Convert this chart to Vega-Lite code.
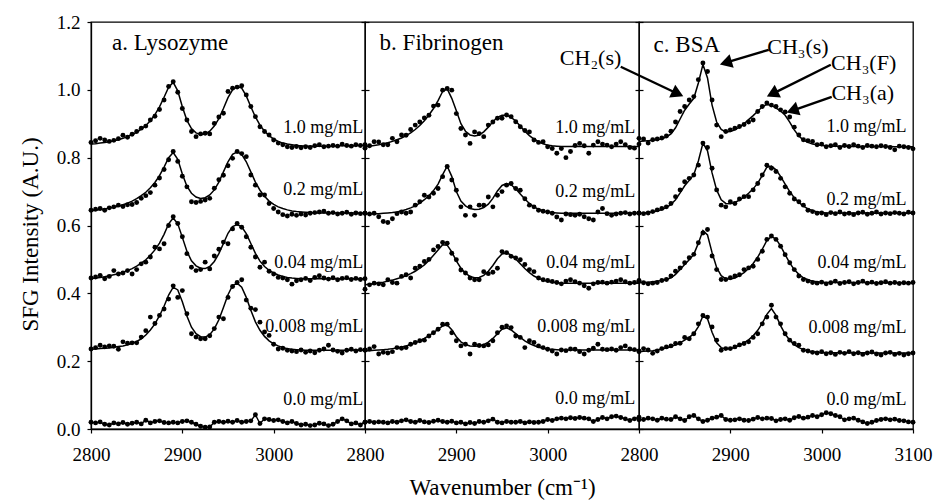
{
"$schema":"https://vega.github.io/schema/vega-lite/v6.json",
"padding":{"left":18,"top":12,"right":5,"bottom":5},
"config":{"font":"Liberation Serif","view":{"stroke":"black","strokeWidth":1.3},
"axis":{"grid":false,"domainColor":"black","tickColor":"black","labelColor":"black","titleColor":"black","labelFont":"Liberation Serif","titleFont":"Liberation Serif","labelFontSize":19,"titleFontSize":23,"titleFontWeight":"normal","tickSize":4,"labelFlush":false,"labelOverlap":false,"domainWidth":1.3,"tickWidth":1.2},
"text":{"font":"Liberation Serif","color":"black"}},
"datasets":{
"s":[
{"p":"a","c":"1.0","x":2800,"y":0.845,"f":0.840},{"p":"a","c":"1.0","x":2805,"y":0.850,"f":0.841},{"p":"a","c":"1.0","x":2810,"y":0.857,"f":0.843},{"p":"a","c":"1.0","x":2815,"y":0.852,"f":0.845},{"p":"a","c":"1.0","x":2820,"y":0.848,"f":0.847},{"p":"a","c":"1.0","x":2825,"y":0.851,"f":0.850},{"p":"a","c":"1.0","x":2830,"y":0.856,"f":0.853},{"p":"a","c":"1.0","x":2835,"y":0.866,"f":0.857},{"p":"a","c":"1.0","x":2840,"y":0.860,"f":0.862},{"p":"a","c":"1.0","x":2845,"y":0.869,"f":0.868},{"p":"a","c":"1.0","x":2850,"y":0.877,"f":0.875},
{"p":"a","c":"1.0","x":2855,"y":0.887,"f":0.884},{"p":"a","c":"1.0","x":2860,"y":0.893,"f":0.895},{"p":"a","c":"1.0","x":2865,"y":0.911,"f":0.909},{"p":"a","c":"1.0","x":2870,"y":0.922,"f":0.927},{"p":"a","c":"1.0","x":2875,"y":0.942,"f":0.950},{"p":"a","c":"1.0","x":2880,"y":0.970,"f":0.978},{"p":"a","c":"1.0","x":2885,"y":1.010,"f":1.008},{"p":"a","c":"1.0","x":2890,"y":1.024,"f":1.022},{"p":"a","c":"1.0","x":2895,"y":0.993,"f":0.997},{"p":"a","c":"1.0","x":2900,"y":0.945,"f":0.950},
{"p":"a","c":"1.0","x":2905,"y":0.911,"f":0.910},{"p":"a","c":"1.0","x":2910,"y":0.877,"f":0.886},{"p":"a","c":"1.0","x":2915,"y":0.862,"f":0.873},{"p":"a","c":"1.0","x":2920,"y":0.870,"f":0.868},{"p":"a","c":"1.0","x":2925,"y":0.872,"f":0.870},{"p":"a","c":"1.0","x":2930,"y":0.870,"f":0.878},{"p":"a","c":"1.0","x":2935,"y":0.901,"f":0.893},{"p":"a","c":"1.0","x":2940,"y":0.920,"f":0.915},{"p":"a","c":"1.0","x":2945,"y":0.931,"f":0.945},{"p":"a","c":"1.0","x":2950,"y":0.995,"f":0.977},
{"p":"a","c":"1.0","x":2955,"y":1.005,"f":1.000},{"p":"a","c":"1.0","x":2960,"y":1.008,"f":1.010},{"p":"a","c":"1.0","x":2965,"y":1.012,"f":1.005},{"p":"a","c":"1.0","x":2970,"y":0.985,"f":0.982},{"p":"a","c":"1.0","x":2975,"y":0.951,"f":0.950},{"p":"a","c":"1.0","x":2980,"y":0.921,"f":0.920},{"p":"a","c":"1.0","x":2985,"y":0.891,"f":0.896},{"p":"a","c":"1.0","x":2990,"y":0.877,"f":0.878},{"p":"a","c":"1.0","x":2995,"y":0.867,"f":0.865},{"p":"a","c":"1.0","x":3000,"y":0.852,"f":0.855},
{"p":"a","c":"1.0","x":3005,"y":0.843,"f":0.848},{"p":"a","c":"1.0","x":3010,"y":0.838,"f":0.843},{"p":"a","c":"1.0","x":3015,"y":0.832,"f":0.840},{"p":"a","c":"1.0","x":3020,"y":0.830,"f":0.838},{"p":"a","c":"1.0","x":3025,"y":0.833,"f":0.836},{"p":"a","c":"1.0","x":3030,"y":0.829,"f":0.835},{"p":"a","c":"1.0","x":3035,"y":0.832,"f":0.834},{"p":"a","c":"1.0","x":3040,"y":0.830,"f":0.834},{"p":"a","c":"1.0","x":3045,"y":0.835,"f":0.834},{"p":"a","c":"1.0","x":3050,"y":0.838,"f":0.834},
{"p":"a","c":"1.0","x":3055,"y":0.832,"f":0.834},{"p":"a","c":"1.0","x":3060,"y":0.834,"f":0.834},{"p":"a","c":"1.0","x":3065,"y":0.836,"f":0.834},{"p":"a","c":"1.0","x":3070,"y":0.834,"f":0.835},{"p":"a","c":"1.0","x":3075,"y":0.840,"f":0.835},{"p":"a","c":"1.0","x":3080,"y":0.836,"f":0.835},{"p":"a","c":"1.0","x":3085,"y":0.834,"f":0.835},{"p":"a","c":"1.0","x":3090,"y":0.838,"f":0.836},{"p":"a","c":"1.0","x":3095,"y":0.836,"f":0.836},{"p":"a","c":"1.0","x":3100,"y":0.838,"f":0.836},

{"p":"a","c":"0.2","x":2800,"y":0.645,"f":0.643},{"p":"a","c":"0.2","x":2805,"y":0.648,"f":0.645},{"p":"a","c":"0.2","x":2810,"y":0.650,"f":0.647},{"p":"a","c":"0.2","x":2815,"y":0.645,"f":0.649},{"p":"a","c":"0.2","x":2820,"y":0.652,"f":0.651},{"p":"a","c":"0.2","x":2825,"y":0.655,"f":0.654},{"p":"a","c":"0.2","x":2830,"y":0.660,"f":0.657},{"p":"a","c":"0.2","x":2835,"y":0.656,"f":0.661},{"p":"a","c":"0.2","x":2840,"y":0.661,"f":0.666},{"p":"a","c":"0.2","x":2845,"y":0.662,"f":0.672},{"p":"a","c":"0.2","x":2850,"y":0.668,"f":0.679},
{"p":"a","c":"0.2","x":2855,"y":0.680,"f":0.688},{"p":"a","c":"0.2","x":2860,"y":0.688,"f":0.698},{"p":"a","c":"0.2","x":2865,"y":0.697,"f":0.711},{"p":"a","c":"0.2","x":2870,"y":0.719,"f":0.727},{"p":"a","c":"0.2","x":2875,"y":0.740,"f":0.747},{"p":"a","c":"0.2","x":2880,"y":0.765,"f":0.772},{"p":"a","c":"0.2","x":2885,"y":0.794,"f":0.800},{"p":"a","c":"0.2","x":2890,"y":0.818,"f":0.815},{"p":"a","c":"0.2","x":2895,"y":0.789,"f":0.795},{"p":"a","c":"0.2","x":2900,"y":0.745,"f":0.752},
{"p":"a","c":"0.2","x":2905,"y":0.714,"f":0.716},{"p":"a","c":"0.2","x":2910,"y":0.670,"f":0.695},{"p":"a","c":"0.2","x":2915,"y":0.668,"f":0.684},{"p":"a","c":"0.2","x":2920,"y":0.671,"f":0.680},{"p":"a","c":"0.2","x":2925,"y":0.675,"f":0.682},{"p":"a","c":"0.2","x":2930,"y":0.680,"f":0.690},{"p":"a","c":"0.2","x":2935,"y":0.710,"f":0.705},{"p":"a","c":"0.2","x":2940,"y":0.735,"f":0.728},{"p":"a","c":"0.2","x":2945,"y":0.748,"f":0.758},{"p":"a","c":"0.2","x":2950,"y":0.776,"f":0.788},
{"p":"a","c":"0.2","x":2955,"y":0.798,"f":0.810},{"p":"a","c":"0.2","x":2960,"y":0.818,"f":0.817},{"p":"a","c":"0.2","x":2965,"y":0.812,"f":0.810},{"p":"a","c":"0.2","x":2970,"y":0.803,"f":0.788},{"p":"a","c":"0.2","x":2975,"y":0.749,"f":0.758},{"p":"a","c":"0.2","x":2980,"y":0.719,"f":0.728},{"p":"a","c":"0.2","x":2985,"y":0.690,"f":0.704},{"p":"a","c":"0.2","x":2990,"y":0.690,"f":0.686},{"p":"a","c":"0.2","x":2995,"y":0.665,"f":0.672},{"p":"a","c":"0.2","x":3000,"y":0.650,"f":0.662},
{"p":"a","c":"0.2","x":3005,"y":0.640,"f":0.655},{"p":"a","c":"0.2","x":3010,"y":0.632,"f":0.650},{"p":"a","c":"0.2","x":3015,"y":0.628,"f":0.646},{"p":"a","c":"0.2","x":3020,"y":0.633,"f":0.643},{"p":"a","c":"0.2","x":3025,"y":0.630,"f":0.641},{"p":"a","c":"0.2","x":3030,"y":0.634,"f":0.640},{"p":"a","c":"0.2","x":3035,"y":0.631,"f":0.639},{"p":"a","c":"0.2","x":3040,"y":0.636,"f":0.638},{"p":"a","c":"0.2","x":3045,"y":0.638,"f":0.637},{"p":"a","c":"0.2","x":3050,"y":0.640,"f":0.637},
{"p":"a","c":"0.2","x":3055,"y":0.642,"f":0.637},{"p":"a","c":"0.2","x":3060,"y":0.636,"f":0.637},{"p":"a","c":"0.2","x":3065,"y":0.638,"f":0.637},{"p":"a","c":"0.2","x":3070,"y":0.634,"f":0.637},{"p":"a","c":"0.2","x":3075,"y":0.636,"f":0.637},{"p":"a","c":"0.2","x":3080,"y":0.639,"f":0.637},{"p":"a","c":"0.2","x":3085,"y":0.633,"f":0.637},{"p":"a","c":"0.2","x":3090,"y":0.637,"f":0.637},{"p":"a","c":"0.2","x":3095,"y":0.635,"f":0.637},{"p":"a","c":"0.2","x":3100,"y":0.636,"f":0.637},

{"p":"a","c":"0.04","x":2800,"y":0.445,"f":0.443},{"p":"a","c":"0.04","x":2805,"y":0.448,"f":0.445},{"p":"a","c":"0.04","x":2810,"y":0.453,"f":0.447},{"p":"a","c":"0.04","x":2815,"y":0.443,"f":0.449},{"p":"a","c":"0.04","x":2820,"y":0.450,"f":0.452},{"p":"a","c":"0.04","x":2825,"y":0.467,"f":0.455},{"p":"a","c":"0.04","x":2830,"y":0.457,"f":0.458},{"p":"a","c":"0.04","x":2835,"y":0.460,"f":0.462},{"p":"a","c":"0.04","x":2840,"y":0.467,"f":0.467},{"p":"a","c":"0.04","x":2845,"y":0.457,"f":0.473},{"p":"a","c":"0.04","x":2850,"y":0.470,"f":0.480},
{"p":"a","c":"0.04","x":2855,"y":0.487,"f":0.489},{"p":"a","c":"0.04","x":2860,"y":0.492,"f":0.499},{"p":"a","c":"0.04","x":2865,"y":0.507,"f":0.512},{"p":"a","c":"0.04","x":2870,"y":0.536,"f":0.528},{"p":"a","c":"0.04","x":2875,"y":0.531,"f":0.548},{"p":"a","c":"0.04","x":2880,"y":0.546,"f":0.574},{"p":"a","c":"0.04","x":2885,"y":0.600,"f":0.605},{"p":"a","c":"0.04","x":2890,"y":0.626,"f":0.622},{"p":"a","c":"0.04","x":2895,"y":0.606,"f":0.605},{"p":"a","c":"0.04","x":2900,"y":0.567,"f":0.565},
{"p":"a","c":"0.04","x":2905,"y":0.517,"f":0.524},{"p":"a","c":"0.04","x":2910,"y":0.477,"f":0.496},{"p":"a","c":"0.04","x":2915,"y":0.467,"f":0.481},{"p":"a","c":"0.04","x":2920,"y":0.470,"f":0.474},{"p":"a","c":"0.04","x":2925,"y":0.492,"f":0.473},{"p":"a","c":"0.04","x":2930,"y":0.472,"f":0.479},{"p":"a","c":"0.04","x":2935,"y":0.510,"f":0.494},{"p":"a","c":"0.04","x":2940,"y":0.530,"f":0.517},{"p":"a","c":"0.04","x":2945,"y":0.551,"f":0.547},{"p":"a","c":"0.04","x":2950,"y":0.546,"f":0.577},
{"p":"a","c":"0.04","x":2955,"y":0.590,"f":0.597},{"p":"a","c":"0.04","x":2960,"y":0.606,"f":0.603},{"p":"a","c":"0.04","x":2965,"y":0.595,"f":0.596},{"p":"a","c":"0.04","x":2970,"y":0.567,"f":0.576},{"p":"a","c":"0.04","x":2975,"y":0.536,"f":0.547},{"p":"a","c":"0.04","x":2980,"y":0.507,"f":0.518},{"p":"a","c":"0.04","x":2985,"y":0.477,"f":0.495},{"p":"a","c":"0.04","x":2990,"y":0.492,"f":0.479},{"p":"a","c":"0.04","x":2995,"y":0.465,"f":0.468},{"p":"a","c":"0.04","x":3000,"y":0.457,"f":0.460},
{"p":"a","c":"0.04","x":3005,"y":0.447,"f":0.454},{"p":"a","c":"0.04","x":3010,"y":0.445,"f":0.450},{"p":"a","c":"0.04","x":3015,"y":0.440,"f":0.447},{"p":"a","c":"0.04","x":3020,"y":0.427,"f":0.445},{"p":"a","c":"0.04","x":3025,"y":0.437,"f":0.444},{"p":"a","c":"0.04","x":3030,"y":0.440,"f":0.443},{"p":"a","c":"0.04","x":3035,"y":0.444,"f":0.443},{"p":"a","c":"0.04","x":3040,"y":0.438,"f":0.443},{"p":"a","c":"0.04","x":3045,"y":0.447,"f":0.443},{"p":"a","c":"0.04","x":3050,"y":0.452,"f":0.443},
{"p":"a","c":"0.04","x":3055,"y":0.445,"f":0.443},{"p":"a","c":"0.04","x":3060,"y":0.442,"f":0.443},{"p":"a","c":"0.04","x":3065,"y":0.446,"f":0.443},{"p":"a","c":"0.04","x":3070,"y":0.440,"f":0.443},{"p":"a","c":"0.04","x":3075,"y":0.444,"f":0.443},{"p":"a","c":"0.04","x":3080,"y":0.446,"f":0.443},{"p":"a","c":"0.04","x":3085,"y":0.441,"f":0.443},{"p":"a","c":"0.04","x":3090,"y":0.444,"f":0.443},{"p":"a","c":"0.04","x":3095,"y":0.441,"f":0.443},{"p":"a","c":"0.04","x":3100,"y":0.443,"f":0.443},

{"p":"a","c":"0.008","x":2800,"y":0.236,"f":0.235},{"p":"a","c":"0.008","x":2805,"y":0.240,"f":0.236},{"p":"a","c":"0.008","x":2810,"y":0.247,"f":0.237},{"p":"a","c":"0.008","x":2815,"y":0.242,"f":0.238},{"p":"a","c":"0.008","x":2820,"y":0.245,"f":0.239},{"p":"a","c":"0.008","x":2825,"y":0.244,"f":0.241},{"p":"a","c":"0.008","x":2830,"y":0.235,"f":0.243},{"p":"a","c":"0.008","x":2835,"y":0.257,"f":0.245},{"p":"a","c":"0.008","x":2840,"y":0.253,"f":0.248},{"p":"a","c":"0.008","x":2845,"y":0.254,"f":0.252},{"p":"a","c":"0.008","x":2850,"y":0.254,"f":0.258},
{"p":"a","c":"0.008","x":2855,"y":0.271,"f":0.266},{"p":"a","c":"0.008","x":2860,"y":0.290,"f":0.277},{"p":"a","c":"0.008","x":2865,"y":0.330,"f":0.292},{"p":"a","c":"0.008","x":2870,"y":0.311,"f":0.310},{"p":"a","c":"0.008","x":2875,"y":0.335,"f":0.334},{"p":"a","c":"0.008","x":2880,"y":0.354,"f":0.362},{"p":"a","c":"0.008","x":2885,"y":0.383,"f":0.395},{"p":"a","c":"0.008","x":2890,"y":0.422,"f":0.418},{"p":"a","c":"0.008","x":2895,"y":0.388,"f":0.410},{"p":"a","c":"0.008","x":2900,"y":0.408,"f":0.375},
{"p":"a","c":"0.008","x":2905,"y":0.340,"f":0.333},{"p":"a","c":"0.008","x":2910,"y":0.281,"f":0.300},{"p":"a","c":"0.008","x":2915,"y":0.271,"f":0.281},{"p":"a","c":"0.008","x":2920,"y":0.266,"f":0.272},{"p":"a","c":"0.008","x":2925,"y":0.266,"f":0.271},{"p":"a","c":"0.008","x":2930,"y":0.275,"f":0.278},{"p":"a","c":"0.008","x":2935,"y":0.296,"f":0.295},{"p":"a","c":"0.008","x":2940,"y":0.330,"f":0.322},{"p":"a","c":"0.008","x":2945,"y":0.325,"f":0.358},{"p":"a","c":"0.008","x":2950,"y":0.388,"f":0.396},
{"p":"a","c":"0.008","x":2955,"y":0.420,"f":0.423},{"p":"a","c":"0.008","x":2960,"y":0.432,"f":0.430},{"p":"a","c":"0.008","x":2965,"y":0.440,"f":0.418},{"p":"a","c":"0.008","x":2970,"y":0.380,"f":0.388},{"p":"a","c":"0.008","x":2975,"y":0.356,"f":0.350},{"p":"a","c":"0.008","x":2980,"y":0.352,"f":0.316},{"p":"a","c":"0.008","x":2985,"y":0.315,"f":0.291},{"p":"a","c":"0.008","x":2990,"y":0.286,"f":0.273},{"p":"a","c":"0.008","x":2995,"y":0.276,"f":0.260},{"p":"a","c":"0.008","x":3000,"y":0.250,"f":0.251},
{"p":"a","c":"0.008","x":3005,"y":0.236,"f":0.245},{"p":"a","c":"0.008","x":3010,"y":0.238,"f":0.240},{"p":"a","c":"0.008","x":3015,"y":0.232,"f":0.237},{"p":"a","c":"0.008","x":3020,"y":0.230,"f":0.235},{"p":"a","c":"0.008","x":3025,"y":0.228,"f":0.234},{"p":"a","c":"0.008","x":3030,"y":0.233,"f":0.233},{"p":"a","c":"0.008","x":3035,"y":0.226,"f":0.232},{"p":"a","c":"0.008","x":3040,"y":0.230,"f":0.232},{"p":"a","c":"0.008","x":3045,"y":0.225,"f":0.232},{"p":"a","c":"0.008","x":3050,"y":0.232,"f":0.232},
{"p":"a","c":"0.008","x":3055,"y":0.236,"f":0.232},{"p":"a","c":"0.008","x":3060,"y":0.247,"f":0.232},{"p":"a","c":"0.008","x":3065,"y":0.233,"f":0.232},{"p":"a","c":"0.008","x":3070,"y":0.229,"f":0.232},{"p":"a","c":"0.008","x":3075,"y":0.224,"f":0.232},{"p":"a","c":"0.008","x":3080,"y":0.232,"f":0.232},{"p":"a","c":"0.008","x":3085,"y":0.235,"f":0.232},{"p":"a","c":"0.008","x":3090,"y":0.230,"f":0.232},{"p":"a","c":"0.008","x":3095,"y":0.234,"f":0.232},{"p":"a","c":"0.008","x":3100,"y":0.232,"f":0.232},

{"p":"a","c":"0.0","x":2800,"y":0.020},{"p":"a","c":"0.0","x":2805,"y":0.018},{"p":"a","c":"0.0","x":2810,"y":0.021},{"p":"a","c":"0.0","x":2815,"y":0.014},{"p":"a","c":"0.0","x":2820,"y":0.012},{"p":"a","c":"0.0","x":2825,"y":0.018},{"p":"a","c":"0.0","x":2830,"y":0.015},{"p":"a","c":"0.0","x":2835,"y":0.019},{"p":"a","c":"0.0","x":2840,"y":0.014},{"p":"a","c":"0.0","x":2845,"y":0.017},{"p":"a","c":"0.0","x":2850,"y":0.020},
{"p":"a","c":"0.0","x":2855,"y":0.015},{"p":"a","c":"0.0","x":2860,"y":0.026},{"p":"a","c":"0.0","x":2865,"y":0.018},{"p":"a","c":"0.0","x":2870,"y":0.022},{"p":"a","c":"0.0","x":2875,"y":0.024},{"p":"a","c":"0.0","x":2880,"y":0.019},{"p":"a","c":"0.0","x":2885,"y":0.018},{"p":"a","c":"0.0","x":2890,"y":0.020},{"p":"a","c":"0.0","x":2895,"y":0.018},{"p":"a","c":"0.0","x":2900,"y":0.022},
{"p":"a","c":"0.0","x":2905,"y":0.024},{"p":"a","c":"0.0","x":2910,"y":0.020},{"p":"a","c":"0.0","x":2915,"y":0.014},{"p":"a","c":"0.0","x":2920,"y":0.008},{"p":"a","c":"0.0","x":2925,"y":0.005},{"p":"a","c":"0.0","x":2930,"y":0.006},{"p":"a","c":"0.0","x":2935,"y":0.020},{"p":"a","c":"0.0","x":2940,"y":0.022},{"p":"a","c":"0.0","x":2945,"y":0.020},{"p":"a","c":"0.0","x":2950,"y":0.023},
{"p":"a","c":"0.0","x":2955,"y":0.020},{"p":"a","c":"0.0","x":2960,"y":0.025},{"p":"a","c":"0.0","x":2965,"y":0.020},{"p":"a","c":"0.0","x":2970,"y":0.022},{"p":"a","c":"0.0","x":2975,"y":0.024},{"p":"a","c":"0.0","x":2980,"y":0.042},{"p":"a","c":"0.0","x":2985,"y":0.016},{"p":"a","c":"0.0","x":2990,"y":0.030},{"p":"a","c":"0.0","x":2995,"y":0.028},{"p":"a","c":"0.0","x":3000,"y":0.025},
{"p":"a","c":"0.0","x":3005,"y":0.027},{"p":"a","c":"0.0","x":3010,"y":0.022},{"p":"a","c":"0.0","x":3015,"y":0.018},{"p":"a","c":"0.0","x":3020,"y":0.022},{"p":"a","c":"0.0","x":3025,"y":0.016},{"p":"a","c":"0.0","x":3030,"y":0.012},{"p":"a","c":"0.0","x":3035,"y":0.014},{"p":"a","c":"0.0","x":3040,"y":0.010},{"p":"a","c":"0.0","x":3045,"y":0.012},{"p":"a","c":"0.0","x":3050,"y":0.017},
{"p":"a","c":"0.0","x":3055,"y":0.015},{"p":"a","c":"0.0","x":3060,"y":0.010},{"p":"a","c":"0.0","x":3065,"y":0.014},{"p":"a","c":"0.0","x":3070,"y":0.022},{"p":"a","c":"0.0","x":3075,"y":0.030},{"p":"a","c":"0.0","x":3080,"y":0.024},{"p":"a","c":"0.0","x":3085,"y":0.015},{"p":"a","c":"0.0","x":3090,"y":0.018},{"p":"a","c":"0.0","x":3095,"y":0.012},{"p":"a","c":"0.0","x":3100,"y":0.020},

{"p":"b","c":"1.0","x":2800,"y":0.828,"f":0.832},{"p":"b","c":"1.0","x":2805,"y":0.835,"f":0.834},{"p":"b","c":"1.0","x":2810,"y":0.847,"f":0.836},{"p":"b","c":"1.0","x":2815,"y":0.846,"f":0.838},{"p":"b","c":"1.0","x":2820,"y":0.838,"f":0.841},{"p":"b","c":"1.0","x":2825,"y":0.838,"f":0.844},{"p":"b","c":"1.0","x":2830,"y":0.857,"f":0.848},{"p":"b","c":"1.0","x":2835,"y":0.847,"f":0.853},{"p":"b","c":"1.0","x":2840,"y":0.867,"f":0.858},{"p":"b","c":"1.0","x":2845,"y":0.866,"f":0.865},{"p":"b","c":"1.0","x":2850,"y":0.883,"f":0.873},
{"p":"b","c":"1.0","x":2855,"y":0.896,"f":0.883},{"p":"b","c":"1.0","x":2860,"y":0.905,"f":0.895},{"p":"b","c":"1.0","x":2865,"y":0.917,"f":0.909},{"p":"b","c":"1.0","x":2870,"y":0.925,"f":0.926},{"p":"b","c":"1.0","x":2875,"y":0.952,"f":0.945},{"p":"b","c":"1.0","x":2880,"y":0.955,"f":0.968},{"p":"b","c":"1.0","x":2885,"y":0.999,"f":0.995},{"p":"b","c":"1.0","x":2890,"y":1.004,"f":1.003},{"p":"b","c":"1.0","x":2895,"y":0.999,"f":0.975},{"p":"b","c":"1.0","x":2900,"y":0.930,"f":0.938},
{"p":"b","c":"1.0","x":2905,"y":0.886,"f":0.900},{"p":"b","c":"1.0","x":2910,"y":0.867,"f":0.878},{"p":"b","c":"1.0","x":2915,"y":0.842,"f":0.867},{"p":"b","c":"1.0","x":2920,"y":0.876,"f":0.864},{"p":"b","c":"1.0","x":2925,"y":0.871,"f":0.867},{"p":"b","c":"1.0","x":2930,"y":0.862,"f":0.876},{"p":"b","c":"1.0","x":2935,"y":0.896,"f":0.890},{"p":"b","c":"1.0","x":2940,"y":0.905,"f":0.906},{"p":"b","c":"1.0","x":2945,"y":0.916,"f":0.919},{"p":"b","c":"1.0","x":2950,"y":0.916,"f":0.925},
{"p":"b","c":"1.0","x":2955,"y":0.926,"f":0.925},{"p":"b","c":"1.0","x":2960,"y":0.921,"f":0.919},{"p":"b","c":"1.0","x":2965,"y":0.906,"f":0.908},{"p":"b","c":"1.0","x":2970,"y":0.891,"f":0.893},{"p":"b","c":"1.0","x":2975,"y":0.880,"f":0.878},{"p":"b","c":"1.0","x":2980,"y":0.876,"f":0.865},{"p":"b","c":"1.0","x":2985,"y":0.852,"f":0.855},{"p":"b","c":"1.0","x":2990,"y":0.845,"f":0.847},{"p":"b","c":"1.0","x":2995,"y":0.847,"f":0.841},{"p":"b","c":"1.0","x":3000,"y":0.832,"f":0.837},
{"p":"b","c":"1.0","x":3005,"y":0.827,"f":0.835},{"p":"b","c":"1.0","x":3010,"y":0.813,"f":0.834},{"p":"b","c":"1.0","x":3015,"y":0.827,"f":0.833},{"p":"b","c":"1.0","x":3020,"y":0.800,"f":0.833},{"p":"b","c":"1.0","x":3025,"y":0.818,"f":0.833},{"p":"b","c":"1.0","x":3030,"y":0.836,"f":0.833},{"p":"b","c":"1.0","x":3035,"y":0.842,"f":0.833},{"p":"b","c":"1.0","x":3040,"y":0.835,"f":0.833},{"p":"b","c":"1.0","x":3045,"y":0.813,"f":0.833},{"p":"b","c":"1.0","x":3050,"y":0.837,"f":0.833},
{"p":"b","c":"1.0","x":3055,"y":0.847,"f":0.833},{"p":"b","c":"1.0","x":3060,"y":0.840,"f":0.833},{"p":"b","c":"1.0","x":3065,"y":0.837,"f":0.833},{"p":"b","c":"1.0","x":3070,"y":0.832,"f":0.833},{"p":"b","c":"1.0","x":3075,"y":0.840,"f":0.833},{"p":"b","c":"1.0","x":3080,"y":0.847,"f":0.833},{"p":"b","c":"1.0","x":3085,"y":0.838,"f":0.833},{"p":"b","c":"1.0","x":3090,"y":0.830,"f":0.833},{"p":"b","c":"1.0","x":3095,"y":0.828,"f":0.833},{"p":"b","c":"1.0","x":3100,"y":0.857,"f":0.833},

{"p":"b","c":"0.2","x":2800,"y":0.636,"f":0.635},{"p":"b","c":"0.2","x":2805,"y":0.634,"f":0.635},{"p":"b","c":"0.2","x":2810,"y":0.636,"f":0.635},{"p":"b","c":"0.2","x":2815,"y":0.626,"f":0.635},{"p":"b","c":"0.2","x":2820,"y":0.612,"f":0.636},{"p":"b","c":"0.2","x":2825,"y":0.609,"f":0.637},{"p":"b","c":"0.2","x":2830,"y":0.620,"f":0.638},{"p":"b","c":"0.2","x":2835,"y":0.635,"f":0.640},{"p":"b","c":"0.2","x":2840,"y":0.640,"f":0.643},{"p":"b","c":"0.2","x":2845,"y":0.636,"f":0.647},{"p":"b","c":"0.2","x":2850,"y":0.640,"f":0.652},
{"p":"b","c":"0.2","x":2855,"y":0.660,"f":0.658},{"p":"b","c":"0.2","x":2860,"y":0.670,"f":0.666},{"p":"b","c":"0.2","x":2865,"y":0.689,"f":0.676},{"p":"b","c":"0.2","x":2870,"y":0.684,"f":0.688},{"p":"b","c":"0.2","x":2875,"y":0.695,"f":0.703},{"p":"b","c":"0.2","x":2880,"y":0.709,"f":0.722},{"p":"b","c":"0.2","x":2885,"y":0.744,"f":0.750},{"p":"b","c":"0.2","x":2890,"y":0.774,"f":0.775},{"p":"b","c":"0.2","x":2895,"y":0.734,"f":0.745},{"p":"b","c":"0.2","x":2900,"y":0.704,"f":0.700},
{"p":"b","c":"0.2","x":2905,"y":0.655,"f":0.672},{"p":"b","c":"0.2","x":2910,"y":0.630,"f":0.658},{"p":"b","c":"0.2","x":2915,"y":0.655,"f":0.650},{"p":"b","c":"0.2","x":2920,"y":0.630,"f":0.647},{"p":"b","c":"0.2","x":2925,"y":0.660,"f":0.648},{"p":"b","c":"0.2","x":2930,"y":0.660,"f":0.653},{"p":"b","c":"0.2","x":2935,"y":0.684,"f":0.663},{"p":"b","c":"0.2","x":2940,"y":0.655,"f":0.680},{"p":"b","c":"0.2","x":2945,"y":0.689,"f":0.702},{"p":"b","c":"0.2","x":2950,"y":0.700,"f":0.718},
{"p":"b","c":"0.2","x":2955,"y":0.719,"f":0.724},{"p":"b","c":"0.2","x":2960,"y":0.724,"f":0.720},{"p":"b","c":"0.2","x":2965,"y":0.709,"f":0.708},{"p":"b","c":"0.2","x":2970,"y":0.704,"f":0.693},{"p":"b","c":"0.2","x":2975,"y":0.679,"f":0.678},{"p":"b","c":"0.2","x":2980,"y":0.660,"f":0.665},{"p":"b","c":"0.2","x":2985,"y":0.655,"f":0.655},{"p":"b","c":"0.2","x":2990,"y":0.645,"f":0.648},{"p":"b","c":"0.2","x":2995,"y":0.642,"f":0.643},{"p":"b","c":"0.2","x":3000,"y":0.640,"f":0.640},
{"p":"b","c":"0.2","x":3005,"y":0.636,"f":0.638},{"p":"b","c":"0.2","x":3010,"y":0.625,"f":0.637},{"p":"b","c":"0.2","x":3015,"y":0.616,"f":0.636},{"p":"b","c":"0.2","x":3020,"y":0.634,"f":0.636},{"p":"b","c":"0.2","x":3025,"y":0.632,"f":0.636},{"p":"b","c":"0.2","x":3030,"y":0.630,"f":0.636},{"p":"b","c":"0.2","x":3035,"y":0.633,"f":0.636},{"p":"b","c":"0.2","x":3040,"y":0.626,"f":0.636},{"p":"b","c":"0.2","x":3045,"y":0.620,"f":0.636},{"p":"b","c":"0.2","x":3050,"y":0.616,"f":0.636},
{"p":"b","c":"0.2","x":3055,"y":0.640,"f":0.636},{"p":"b","c":"0.2","x":3060,"y":0.650,"f":0.636},{"p":"b","c":"0.2","x":3065,"y":0.635,"f":0.636},{"p":"b","c":"0.2","x":3070,"y":0.630,"f":0.636},{"p":"b","c":"0.2","x":3075,"y":0.634,"f":0.636},{"p":"b","c":"0.2","x":3080,"y":0.636,"f":0.636},{"p":"b","c":"0.2","x":3085,"y":0.638,"f":0.636},{"p":"b","c":"0.2","x":3090,"y":0.634,"f":0.636},{"p":"b","c":"0.2","x":3095,"y":0.636,"f":0.636},{"p":"b","c":"0.2","x":3100,"y":0.637,"f":0.636},

{"p":"b","c":"0.04","x":2800,"y":0.412,"f":0.425},{"p":"b","c":"0.04","x":2805,"y":0.425,"f":0.427},{"p":"b","c":"0.04","x":2810,"y":0.430,"f":0.429},{"p":"b","c":"0.04","x":2815,"y":0.428,"f":0.431},{"p":"b","c":"0.04","x":2820,"y":0.425,"f":0.433},{"p":"b","c":"0.04","x":2825,"y":0.440,"f":0.436},{"p":"b","c":"0.04","x":2830,"y":0.432,"f":0.439},{"p":"b","c":"0.04","x":2835,"y":0.430,"f":0.443},{"p":"b","c":"0.04","x":2840,"y":0.450,"f":0.447},{"p":"b","c":"0.04","x":2845,"y":0.455,"f":0.452},{"p":"b","c":"0.04","x":2850,"y":0.445,"f":0.458},
{"p":"b","c":"0.04","x":2855,"y":0.474,"f":0.465},{"p":"b","c":"0.04","x":2860,"y":0.480,"f":0.474},{"p":"b","c":"0.04","x":2865,"y":0.494,"f":0.484},{"p":"b","c":"0.04","x":2870,"y":0.500,"f":0.497},{"p":"b","c":"0.04","x":2875,"y":0.528,"f":0.512},{"p":"b","c":"0.04","x":2880,"y":0.538,"f":0.528},{"p":"b","c":"0.04","x":2885,"y":0.550,"f":0.543},{"p":"b","c":"0.04","x":2890,"y":0.548,"f":0.542},{"p":"b","c":"0.04","x":2895,"y":0.518,"f":0.522},{"p":"b","c":"0.04","x":2900,"y":0.499,"f":0.496},
{"p":"b","c":"0.04","x":2905,"y":0.469,"f":0.474},{"p":"b","c":"0.04","x":2910,"y":0.460,"f":0.459},{"p":"b","c":"0.04","x":2915,"y":0.445,"f":0.450},{"p":"b","c":"0.04","x":2920,"y":0.440,"f":0.446},{"p":"b","c":"0.04","x":2925,"y":0.440,"f":0.447},{"p":"b","c":"0.04","x":2930,"y":0.464,"f":0.453},{"p":"b","c":"0.04","x":2935,"y":0.458,"f":0.465},{"p":"b","c":"0.04","x":2940,"y":0.462,"f":0.482},{"p":"b","c":"0.04","x":2945,"y":0.474,"f":0.502},{"p":"b","c":"0.04","x":2950,"y":0.523,"f":0.516},
{"p":"b","c":"0.04","x":2955,"y":0.520,"f":0.519},{"p":"b","c":"0.04","x":2960,"y":0.509,"f":0.513},{"p":"b","c":"0.04","x":2965,"y":0.504,"f":0.501},{"p":"b","c":"0.04","x":2970,"y":0.499,"f":0.487},{"p":"b","c":"0.04","x":2975,"y":0.485,"f":0.473},{"p":"b","c":"0.04","x":2980,"y":0.470,"f":0.461},{"p":"b","c":"0.04","x":2985,"y":0.464,"f":0.451},{"p":"b","c":"0.04","x":2990,"y":0.445,"f":0.444},{"p":"b","c":"0.04","x":2995,"y":0.440,"f":0.439},{"p":"b","c":"0.04","x":3000,"y":0.438,"f":0.435},
{"p":"b","c":"0.04","x":3005,"y":0.435,"f":0.433},{"p":"b","c":"0.04","x":3010,"y":0.432,"f":0.431},{"p":"b","c":"0.04","x":3015,"y":0.428,"f":0.430},{"p":"b","c":"0.04","x":3020,"y":0.436,"f":0.430},{"p":"b","c":"0.04","x":3025,"y":0.440,"f":0.430},{"p":"b","c":"0.04","x":3030,"y":0.434,"f":0.430},{"p":"b","c":"0.04","x":3035,"y":0.430,"f":0.430},{"p":"b","c":"0.04","x":3040,"y":0.422,"f":0.430},{"p":"b","c":"0.04","x":3045,"y":0.415,"f":0.430},{"p":"b","c":"0.04","x":3050,"y":0.428,"f":0.430},
{"p":"b","c":"0.04","x":3055,"y":0.432,"f":0.430},{"p":"b","c":"0.04","x":3060,"y":0.433,"f":0.430},{"p":"b","c":"0.04","x":3065,"y":0.430,"f":0.430},{"p":"b","c":"0.04","x":3070,"y":0.433,"f":0.430},{"p":"b","c":"0.04","x":3075,"y":0.436,"f":0.430},{"p":"b","c":"0.04","x":3080,"y":0.440,"f":0.430},{"p":"b","c":"0.04","x":3085,"y":0.434,"f":0.430},{"p":"b","c":"0.04","x":3090,"y":0.430,"f":0.430},{"p":"b","c":"0.04","x":3095,"y":0.432,"f":0.430},{"p":"b","c":"0.04","x":3100,"y":0.438,"f":0.430},

{"p":"b","c":"0.008","x":2800,"y":0.233,"f":0.230},{"p":"b","c":"0.008","x":2805,"y":0.236,"f":0.231},{"p":"b","c":"0.008","x":2810,"y":0.243,"f":0.232},{"p":"b","c":"0.008","x":2815,"y":0.221,"f":0.233},{"p":"b","c":"0.008","x":2820,"y":0.226,"f":0.234},{"p":"b","c":"0.008","x":2825,"y":0.224,"f":0.235},{"p":"b","c":"0.008","x":2830,"y":0.228,"f":0.237},{"p":"b","c":"0.008","x":2835,"y":0.240,"f":0.239},{"p":"b","c":"0.008","x":2840,"y":0.238,"f":0.242},{"p":"b","c":"0.008","x":2845,"y":0.240,"f":0.245},{"p":"b","c":"0.008","x":2850,"y":0.250,"f":0.249},
{"p":"b","c":"0.008","x":2855,"y":0.255,"f":0.254},{"p":"b","c":"0.008","x":2860,"y":0.260,"f":0.260},{"p":"b","c":"0.008","x":2865,"y":0.262,"f":0.267},{"p":"b","c":"0.008","x":2870,"y":0.274,"f":0.275},{"p":"b","c":"0.008","x":2875,"y":0.284,"f":0.284},{"p":"b","c":"0.008","x":2880,"y":0.294,"f":0.294},{"p":"b","c":"0.008","x":2885,"y":0.309,"f":0.304},{"p":"b","c":"0.008","x":2890,"y":0.309,"f":0.307},{"p":"b","c":"0.008","x":2895,"y":0.284,"f":0.293},{"p":"b","c":"0.008","x":2900,"y":0.260,"f":0.272},
{"p":"b","c":"0.008","x":2905,"y":0.245,"f":0.257},{"p":"b","c":"0.008","x":2910,"y":0.250,"f":0.249},{"p":"b","c":"0.008","x":2915,"y":0.221,"f":0.245},{"p":"b","c":"0.008","x":2920,"y":0.250,"f":0.244},{"p":"b","c":"0.008","x":2925,"y":0.246,"f":0.245},{"p":"b","c":"0.008","x":2930,"y":0.245,"f":0.249},{"p":"b","c":"0.008","x":2935,"y":0.248,"f":0.256},{"p":"b","c":"0.008","x":2940,"y":0.260,"f":0.267},{"p":"b","c":"0.008","x":2945,"y":0.284,"f":0.281},{"p":"b","c":"0.008","x":2950,"y":0.300,"f":0.294},
{"p":"b","c":"0.008","x":2955,"y":0.304,"f":0.298},{"p":"b","c":"0.008","x":2960,"y":0.299,"f":0.292},{"p":"b","c":"0.008","x":2965,"y":0.274,"f":0.281},{"p":"b","c":"0.008","x":2970,"y":0.270,"f":0.270},{"p":"b","c":"0.008","x":2975,"y":0.240,"f":0.260},{"p":"b","c":"0.008","x":2980,"y":0.260,"f":0.252},{"p":"b","c":"0.008","x":2985,"y":0.255,"f":0.246},{"p":"b","c":"0.008","x":2990,"y":0.245,"f":0.241},{"p":"b","c":"0.008","x":2995,"y":0.240,"f":0.238},{"p":"b","c":"0.008","x":3000,"y":0.235,"f":0.236},
{"p":"b","c":"0.008","x":3005,"y":0.230,"f":0.235},{"p":"b","c":"0.008","x":3010,"y":0.221,"f":0.234},{"p":"b","c":"0.008","x":3015,"y":0.233,"f":0.233},{"p":"b","c":"0.008","x":3020,"y":0.231,"f":0.233},{"p":"b","c":"0.008","x":3025,"y":0.236,"f":0.233},{"p":"b","c":"0.008","x":3030,"y":0.235,"f":0.233},{"p":"b","c":"0.008","x":3035,"y":0.228,"f":0.233},{"p":"b","c":"0.008","x":3040,"y":0.221,"f":0.233},{"p":"b","c":"0.008","x":3045,"y":0.232,"f":0.233},{"p":"b","c":"0.008","x":3050,"y":0.238,"f":0.233},
{"p":"b","c":"0.008","x":3055,"y":0.250,"f":0.233},{"p":"b","c":"0.008","x":3060,"y":0.235,"f":0.233},{"p":"b","c":"0.008","x":3065,"y":0.234,"f":0.233},{"p":"b","c":"0.008","x":3070,"y":0.236,"f":0.233},{"p":"b","c":"0.008","x":3075,"y":0.232,"f":0.233},{"p":"b","c":"0.008","x":3080,"y":0.240,"f":0.233},{"p":"b","c":"0.008","x":3085,"y":0.245,"f":0.233},{"p":"b","c":"0.008","x":3090,"y":0.236,"f":0.233},{"p":"b","c":"0.008","x":3095,"y":0.234,"f":0.233},{"p":"b","c":"0.008","x":3100,"y":0.230,"f":0.233},

{"p":"b","c":"0.0","x":2800,"y":0.020},{"p":"b","c":"0.0","x":2805,"y":0.022},{"p":"b","c":"0.0","x":2810,"y":0.019},{"p":"b","c":"0.0","x":2815,"y":0.021},{"p":"b","c":"0.0","x":2820,"y":0.020},{"p":"b","c":"0.0","x":2825,"y":0.018},{"p":"b","c":"0.0","x":2830,"y":0.022},{"p":"b","c":"0.0","x":2835,"y":0.020},{"p":"b","c":"0.0","x":2840,"y":0.024},{"p":"b","c":"0.0","x":2845,"y":0.027},{"p":"b","c":"0.0","x":2850,"y":0.022},
{"p":"b","c":"0.0","x":2855,"y":0.020},{"p":"b","c":"0.0","x":2860,"y":0.025},{"p":"b","c":"0.0","x":2865,"y":0.021},{"p":"b","c":"0.0","x":2870,"y":0.019},{"p":"b","c":"0.0","x":2875,"y":0.023},{"p":"b","c":"0.0","x":2880,"y":0.026},{"p":"b","c":"0.0","x":2885,"y":0.022},{"p":"b","c":"0.0","x":2890,"y":0.020},{"p":"b","c":"0.0","x":2895,"y":0.023},{"p":"b","c":"0.0","x":2900,"y":0.018},
{"p":"b","c":"0.0","x":2905,"y":0.020},{"p":"b","c":"0.0","x":2910,"y":0.015},{"p":"b","c":"0.0","x":2915,"y":0.019},{"p":"b","c":"0.0","x":2920,"y":0.016},{"p":"b","c":"0.0","x":2925,"y":0.022},{"p":"b","c":"0.0","x":2930,"y":0.020},{"p":"b","c":"0.0","x":2935,"y":0.024},{"p":"b","c":"0.0","x":2940,"y":0.029},{"p":"b","c":"0.0","x":2945,"y":0.020},{"p":"b","c":"0.0","x":2950,"y":0.018},
{"p":"b","c":"0.0","x":2955,"y":0.022},{"p":"b","c":"0.0","x":2960,"y":0.020},{"p":"b","c":"0.0","x":2965,"y":0.020},{"p":"b","c":"0.0","x":2970,"y":0.022},{"p":"b","c":"0.0","x":2975,"y":0.018},{"p":"b","c":"0.0","x":2980,"y":0.021},{"p":"b","c":"0.0","x":2985,"y":0.019},{"p":"b","c":"0.0","x":2990,"y":0.020},{"p":"b","c":"0.0","x":2995,"y":0.022},{"p":"b","c":"0.0","x":3000,"y":0.028},
{"p":"b","c":"0.0","x":3005,"y":0.025},{"p":"b","c":"0.0","x":3010,"y":0.030},{"p":"b","c":"0.0","x":3015,"y":0.032},{"p":"b","c":"0.0","x":3020,"y":0.030},{"p":"b","c":"0.0","x":3025,"y":0.033},{"p":"b","c":"0.0","x":3030,"y":0.031},{"p":"b","c":"0.0","x":3035,"y":0.034},{"p":"b","c":"0.0","x":3040,"y":0.032},{"p":"b","c":"0.0","x":3045,"y":0.030},{"p":"b","c":"0.0","x":3050,"y":0.022},
{"p":"b","c":"0.0","x":3055,"y":0.028},{"p":"b","c":"0.0","x":3060,"y":0.034},{"p":"b","c":"0.0","x":3065,"y":0.030},{"p":"b","c":"0.0","x":3070,"y":0.036},{"p":"b","c":"0.0","x":3075,"y":0.038},{"p":"b","c":"0.0","x":3080,"y":0.034},{"p":"b","c":"0.0","x":3085,"y":0.030},{"p":"b","c":"0.0","x":3090,"y":0.025},{"p":"b","c":"0.0","x":3095,"y":0.030},{"p":"b","c":"0.0","x":3100,"y":0.035},

{"p":"c","c":"1.0","x":2800,"y":0.840,"f":0.848},{"p":"c","c":"1.0","x":2805,"y":0.855,"f":0.849},{"p":"c","c":"1.0","x":2810,"y":0.843,"f":0.850},{"p":"c","c":"1.0","x":2815,"y":0.853,"f":0.851},{"p":"c","c":"1.0","x":2820,"y":0.855,"f":0.853},{"p":"c","c":"1.0","x":2825,"y":0.858,"f":0.856},{"p":"c","c":"1.0","x":2830,"y":0.864,"f":0.861},{"p":"c","c":"1.0","x":2835,"y":0.878,"f":0.870},{"p":"c","c":"1.0","x":2840,"y":0.905,"f":0.888},{"p":"c","c":"1.0","x":2845,"y":0.936,"f":0.914},{"p":"c","c":"1.0","x":2850,"y":0.951,"f":0.940},
{"p":"c","c":"1.0","x":2855,"y":0.970,"f":0.958},{"p":"c","c":"1.0","x":2860,"y":0.980,"f":0.975},{"p":"c","c":"1.0","x":2865,"y":1.030,"f":1.020},{"p":"c","c":"1.0","x":2870,"y":1.079,"f":1.075},{"p":"c","c":"1.0","x":2875,"y":1.054,"f":1.035},{"p":"c","c":"1.0","x":2880,"y":0.970,"f":0.955},{"p":"c","c":"1.0","x":2885,"y":0.896,"f":0.905},{"p":"c","c":"1.0","x":2890,"y":0.862,"f":0.883},{"p":"c","c":"1.0","x":2895,"y":0.877,"f":0.876},{"p":"c","c":"1.0","x":2900,"y":0.882,"f":0.877},
{"p":"c","c":"1.0","x":2905,"y":0.887,"f":0.882},{"p":"c","c":"1.0","x":2910,"y":0.892,"f":0.890},{"p":"c","c":"1.0","x":2915,"y":0.898,"f":0.900},{"p":"c","c":"1.0","x":2920,"y":0.905,"f":0.912},{"p":"c","c":"1.0","x":2925,"y":0.911,"f":0.924},{"p":"c","c":"1.0","x":2930,"y":0.936,"f":0.937},{"p":"c","c":"1.0","x":2935,"y":0.951,"f":0.950},{"p":"c","c":"1.0","x":2940,"y":0.961,"f":0.957},{"p":"c","c":"1.0","x":2945,"y":0.955,"f":0.954},{"p":"c","c":"1.0","x":2950,"y":0.951,"f":0.946},
{"p":"c","c":"1.0","x":2955,"y":0.941,"f":0.938},{"p":"c","c":"1.0","x":2960,"y":0.935,"f":0.925},{"p":"c","c":"1.0","x":2965,"y":0.920,"f":0.905},{"p":"c","c":"1.0","x":2970,"y":0.890,"f":0.882},{"p":"c","c":"1.0","x":2975,"y":0.867,"f":0.864},{"p":"c","c":"1.0","x":2980,"y":0.853,"f":0.852},{"p":"c","c":"1.0","x":2985,"y":0.850,"f":0.845},{"p":"c","c":"1.0","x":2990,"y":0.848,"f":0.840},{"p":"c","c":"1.0","x":2995,"y":0.838,"f":0.838},{"p":"c","c":"1.0","x":3000,"y":0.840,"f":0.836},
{"p":"c","c":"1.0","x":3005,"y":0.832,"f":0.835},{"p":"c","c":"1.0","x":3010,"y":0.835,"f":0.834},{"p":"c","c":"1.0","x":3015,"y":0.838,"f":0.834},{"p":"c","c":"1.0","x":3020,"y":0.830,"f":0.834},{"p":"c","c":"1.0","x":3025,"y":0.836,"f":0.834},{"p":"c","c":"1.0","x":3030,"y":0.833,"f":0.833},{"p":"c","c":"1.0","x":3035,"y":0.838,"f":0.833},{"p":"c","c":"1.0","x":3040,"y":0.834,"f":0.833},{"p":"c","c":"1.0","x":3045,"y":0.830,"f":0.833},{"p":"c","c":"1.0","x":3050,"y":0.836,"f":0.833},
{"p":"c","c":"1.0","x":3055,"y":0.834,"f":0.833},{"p":"c","c":"1.0","x":3060,"y":0.832,"f":0.833},{"p":"c","c":"1.0","x":3065,"y":0.835,"f":0.833},{"p":"c","c":"1.0","x":3070,"y":0.833,"f":0.833},{"p":"c","c":"1.0","x":3075,"y":0.830,"f":0.833},{"p":"c","c":"1.0","x":3080,"y":0.823,"f":0.832},{"p":"c","c":"1.0","x":3085,"y":0.834,"f":0.832},{"p":"c","c":"1.0","x":3090,"y":0.832,"f":0.832},{"p":"c","c":"1.0","x":3095,"y":0.830,"f":0.832},{"p":"c","c":"1.0","x":3100,"y":0.826,"f":0.832},

{"p":"c","c":"0.2","x":2800,"y":0.636,"f":0.636},{"p":"c","c":"0.2","x":2805,"y":0.635,"f":0.637},{"p":"c","c":"0.2","x":2810,"y":0.637,"f":0.638},{"p":"c","c":"0.2","x":2815,"y":0.641,"f":0.640},{"p":"c","c":"0.2","x":2820,"y":0.646,"f":0.643},{"p":"c","c":"0.2","x":2825,"y":0.650,"f":0.647},{"p":"c","c":"0.2","x":2830,"y":0.655,"f":0.653},{"p":"c","c":"0.2","x":2835,"y":0.665,"f":0.662},{"p":"c","c":"0.2","x":2840,"y":0.685,"f":0.676},{"p":"c","c":"0.2","x":2845,"y":0.705,"f":0.696},{"p":"c","c":"0.2","x":2850,"y":0.729,"f":0.717},
{"p":"c","c":"0.2","x":2855,"y":0.739,"f":0.733},{"p":"c","c":"0.2","x":2860,"y":0.749,"f":0.750},{"p":"c","c":"0.2","x":2865,"y":0.778,"f":0.790},{"p":"c","c":"0.2","x":2870,"y":0.843,"f":0.843},{"p":"c","c":"0.2","x":2875,"y":0.830,"f":0.820},{"p":"c","c":"0.2","x":2880,"y":0.769,"f":0.755},{"p":"c","c":"0.2","x":2885,"y":0.705,"f":0.705},{"p":"c","c":"0.2","x":2890,"y":0.660,"f":0.676},{"p":"c","c":"0.2","x":2895,"y":0.655,"f":0.665},{"p":"c","c":"0.2","x":2900,"y":0.670,"f":0.664},
{"p":"c","c":"0.2","x":2905,"y":0.665,"f":0.668},{"p":"c","c":"0.2","x":2910,"y":0.678,"f":0.675},{"p":"c","c":"0.2","x":2915,"y":0.685,"f":0.684},{"p":"c","c":"0.2","x":2920,"y":0.685,"f":0.695},{"p":"c","c":"0.2","x":2925,"y":0.705,"f":0.708},{"p":"c","c":"0.2","x":2930,"y":0.724,"f":0.725},{"p":"c","c":"0.2","x":2935,"y":0.749,"f":0.748},{"p":"c","c":"0.2","x":2940,"y":0.778,"f":0.772},{"p":"c","c":"0.2","x":2945,"y":0.769,"f":0.775},{"p":"c","c":"0.2","x":2950,"y":0.759,"f":0.764},
{"p":"c","c":"0.2","x":2955,"y":0.739,"f":0.745},{"p":"c","c":"0.2","x":2960,"y":0.714,"f":0.722},{"p":"c","c":"0.2","x":2965,"y":0.695,"f":0.700},{"p":"c","c":"0.2","x":2970,"y":0.678,"f":0.682},{"p":"c","c":"0.2","x":2975,"y":0.670,"f":0.668},{"p":"c","c":"0.2","x":2980,"y":0.660,"f":0.657},{"p":"c","c":"0.2","x":2985,"y":0.645,"f":0.649},{"p":"c","c":"0.2","x":2990,"y":0.641,"f":0.644},{"p":"c","c":"0.2","x":2995,"y":0.636,"f":0.640},{"p":"c","c":"0.2","x":3000,"y":0.637,"f":0.638},
{"p":"c","c":"0.2","x":3005,"y":0.632,"f":0.637},{"p":"c","c":"0.2","x":3010,"y":0.638,"f":0.637},{"p":"c","c":"0.2","x":3015,"y":0.635,"f":0.637},{"p":"c","c":"0.2","x":3020,"y":0.640,"f":0.637},{"p":"c","c":"0.2","x":3025,"y":0.634,"f":0.637},{"p":"c","c":"0.2","x":3030,"y":0.636,"f":0.637},{"p":"c","c":"0.2","x":3035,"y":0.632,"f":0.637},{"p":"c","c":"0.2","x":3040,"y":0.637,"f":0.637},{"p":"c","c":"0.2","x":3045,"y":0.639,"f":0.637},{"p":"c","c":"0.2","x":3050,"y":0.633,"f":0.637},
{"p":"c","c":"0.2","x":3055,"y":0.636,"f":0.636},{"p":"c","c":"0.2","x":3060,"y":0.640,"f":0.636},{"p":"c","c":"0.2","x":3065,"y":0.634,"f":0.636},{"p":"c","c":"0.2","x":3070,"y":0.637,"f":0.636},{"p":"c","c":"0.2","x":3075,"y":0.635,"f":0.636},{"p":"c","c":"0.2","x":3080,"y":0.638,"f":0.636},{"p":"c","c":"0.2","x":3085,"y":0.636,"f":0.636},{"p":"c","c":"0.2","x":3090,"y":0.634,"f":0.636},{"p":"c","c":"0.2","x":3095,"y":0.639,"f":0.636},{"p":"c","c":"0.2","x":3100,"y":0.637,"f":0.636},

{"p":"c","c":"0.04","x":2800,"y":0.435,"f":0.432},{"p":"c","c":"0.04","x":2805,"y":0.431,"f":0.432},{"p":"c","c":"0.04","x":2810,"y":0.428,"f":0.433},{"p":"c","c":"0.04","x":2815,"y":0.430,"f":0.434},{"p":"c","c":"0.04","x":2820,"y":0.432,"f":0.436},{"p":"c","c":"0.04","x":2825,"y":0.438,"f":0.438},{"p":"c","c":"0.04","x":2830,"y":0.441,"f":0.441},{"p":"c","c":"0.04","x":2835,"y":0.451,"f":0.446},{"p":"c","c":"0.04","x":2840,"y":0.465,"f":0.456},{"p":"c","c":"0.04","x":2845,"y":0.475,"f":0.470},{"p":"c","c":"0.04","x":2850,"y":0.490,"f":0.485},
{"p":"c","c":"0.04","x":2855,"y":0.505,"f":0.499},{"p":"c","c":"0.04","x":2860,"y":0.515,"f":0.515},{"p":"c","c":"0.04","x":2865,"y":0.549,"f":0.548},{"p":"c","c":"0.04","x":2870,"y":0.578,"f":0.585},{"p":"c","c":"0.04","x":2875,"y":0.588,"f":0.572},{"p":"c","c":"0.04","x":2880,"y":0.510,"f":0.520},{"p":"c","c":"0.04","x":2885,"y":0.470,"f":0.476},{"p":"c","c":"0.04","x":2890,"y":0.441,"f":0.452},{"p":"c","c":"0.04","x":2895,"y":0.441,"f":0.443},{"p":"c","c":"0.04","x":2900,"y":0.446,"f":0.442},
{"p":"c","c":"0.04","x":2905,"y":0.451,"f":0.445},{"p":"c","c":"0.04","x":2910,"y":0.455,"f":0.452},{"p":"c","c":"0.04","x":2915,"y":0.470,"f":0.461},{"p":"c","c":"0.04","x":2920,"y":0.475,"f":0.473},{"p":"c","c":"0.04","x":2925,"y":0.480,"f":0.488},{"p":"c","c":"0.04","x":2930,"y":0.500,"f":0.507},{"p":"c","c":"0.04","x":2935,"y":0.524,"f":0.530},{"p":"c","c":"0.04","x":2940,"y":0.559,"f":0.556},{"p":"c","c":"0.04","x":2945,"y":0.569,"f":0.567},{"p":"c","c":"0.04","x":2950,"y":0.559,"f":0.560},
{"p":"c","c":"0.04","x":2955,"y":0.539,"f":0.540},{"p":"c","c":"0.04","x":2960,"y":0.514,"f":0.514},{"p":"c","c":"0.04","x":2965,"y":0.490,"f":0.490},{"p":"c","c":"0.04","x":2970,"y":0.470,"f":0.470},{"p":"c","c":"0.04","x":2975,"y":0.451,"f":0.456},{"p":"c","c":"0.04","x":2980,"y":0.441,"f":0.446},{"p":"c","c":"0.04","x":2985,"y":0.436,"f":0.440},{"p":"c","c":"0.04","x":2990,"y":0.432,"f":0.436},{"p":"c","c":"0.04","x":2995,"y":0.430,"f":0.434},{"p":"c","c":"0.04","x":3000,"y":0.433,"f":0.433},
{"p":"c","c":"0.04","x":3005,"y":0.428,"f":0.432},{"p":"c","c":"0.04","x":3010,"y":0.431,"f":0.432},{"p":"c","c":"0.04","x":3015,"y":0.436,"f":0.432},{"p":"c","c":"0.04","x":3020,"y":0.429,"f":0.432},{"p":"c","c":"0.04","x":3025,"y":0.432,"f":0.432},{"p":"c","c":"0.04","x":3030,"y":0.434,"f":0.432},{"p":"c","c":"0.04","x":3035,"y":0.428,"f":0.432},{"p":"c","c":"0.04","x":3040,"y":0.432,"f":0.432},{"p":"c","c":"0.04","x":3045,"y":0.436,"f":0.432},{"p":"c","c":"0.04","x":3050,"y":0.430,"f":0.432},
{"p":"c","c":"0.04","x":3055,"y":0.433,"f":0.431},{"p":"c","c":"0.04","x":3060,"y":0.429,"f":0.431},{"p":"c","c":"0.04","x":3065,"y":0.431,"f":0.431},{"p":"c","c":"0.04","x":3070,"y":0.434,"f":0.431},{"p":"c","c":"0.04","x":3075,"y":0.430,"f":0.431},{"p":"c","c":"0.04","x":3080,"y":0.432,"f":0.431},{"p":"c","c":"0.04","x":3085,"y":0.429,"f":0.431},{"p":"c","c":"0.04","x":3090,"y":0.431,"f":0.431},{"p":"c","c":"0.04","x":3095,"y":0.430,"f":0.431},{"p":"c","c":"0.04","x":3100,"y":0.432,"f":0.431},

{"p":"c","c":"0.008","x":2800,"y":0.228,"f":0.228},{"p":"c","c":"0.008","x":2805,"y":0.237,"f":0.229},{"p":"c","c":"0.008","x":2810,"y":0.233,"f":0.230},{"p":"c","c":"0.008","x":2815,"y":0.223,"f":0.231},{"p":"c","c":"0.008","x":2820,"y":0.230,"f":0.233},{"p":"c","c":"0.008","x":2825,"y":0.237,"f":0.236},{"p":"c","c":"0.008","x":2830,"y":0.242,"f":0.239},{"p":"c","c":"0.008","x":2835,"y":0.245,"f":0.243},{"p":"c","c":"0.008","x":2840,"y":0.252,"f":0.248},{"p":"c","c":"0.008","x":2845,"y":0.253,"f":0.254},{"p":"c","c":"0.008","x":2850,"y":0.270,"f":0.262},
{"p":"c","c":"0.008","x":2855,"y":0.266,"f":0.270},{"p":"c","c":"0.008","x":2860,"y":0.281,"f":0.281},{"p":"c","c":"0.008","x":2865,"y":0.310,"f":0.302},{"p":"c","c":"0.008","x":2870,"y":0.335,"f":0.333},{"p":"c","c":"0.008","x":2875,"y":0.330,"f":0.325},{"p":"c","c":"0.008","x":2880,"y":0.301,"f":0.285},{"p":"c","c":"0.008","x":2885,"y":0.262,"f":0.254},{"p":"c","c":"0.008","x":2890,"y":0.232,"f":0.240},{"p":"c","c":"0.008","x":2895,"y":0.237,"f":0.236},{"p":"c","c":"0.008","x":2900,"y":0.237,"f":0.237},
{"p":"c","c":"0.008","x":2905,"y":0.242,"f":0.241},{"p":"c","c":"0.008","x":2910,"y":0.248,"f":0.247},{"p":"c","c":"0.008","x":2915,"y":0.252,"f":0.254},{"p":"c","c":"0.008","x":2920,"y":0.257,"f":0.263},{"p":"c","c":"0.008","x":2925,"y":0.270,"f":0.275},{"p":"c","c":"0.008","x":2930,"y":0.281,"f":0.291},{"p":"c","c":"0.008","x":2935,"y":0.310,"f":0.312},{"p":"c","c":"0.008","x":2940,"y":0.330,"f":0.338},{"p":"c","c":"0.008","x":2945,"y":0.365,"f":0.355},{"p":"c","c":"0.008","x":2950,"y":0.330,"f":0.335},
{"p":"c","c":"0.008","x":2955,"y":0.310,"f":0.305},{"p":"c","c":"0.008","x":2960,"y":0.281,"f":0.280},{"p":"c","c":"0.008","x":2965,"y":0.262,"f":0.262},{"p":"c","c":"0.008","x":2970,"y":0.252,"f":0.249},{"p":"c","c":"0.008","x":2975,"y":0.247,"f":0.240},{"p":"c","c":"0.008","x":2980,"y":0.232,"f":0.234},{"p":"c","c":"0.008","x":2985,"y":0.230,"f":0.230},{"p":"c","c":"0.008","x":2990,"y":0.226,"f":0.228},{"p":"c","c":"0.008","x":2995,"y":0.224,"f":0.226},{"p":"c","c":"0.008","x":3000,"y":0.228,"f":0.225},
{"p":"c","c":"0.008","x":3005,"y":0.222,"f":0.225},{"p":"c","c":"0.008","x":3010,"y":0.225,"f":0.225},{"p":"c","c":"0.008","x":3015,"y":0.220,"f":0.225},{"p":"c","c":"0.008","x":3020,"y":0.226,"f":0.225},{"p":"c","c":"0.008","x":3025,"y":0.223,"f":0.225},{"p":"c","c":"0.008","x":3030,"y":0.228,"f":0.225},{"p":"c","c":"0.008","x":3035,"y":0.222,"f":0.225},{"p":"c","c":"0.008","x":3040,"y":0.225,"f":0.225},{"p":"c","c":"0.008","x":3045,"y":0.220,"f":0.225},{"p":"c","c":"0.008","x":3050,"y":0.224,"f":0.225},
{"p":"c","c":"0.008","x":3055,"y":0.227,"f":0.224},{"p":"c","c":"0.008","x":3060,"y":0.221,"f":0.224},{"p":"c","c":"0.008","x":3065,"y":0.218,"f":0.224},{"p":"c","c":"0.008","x":3070,"y":0.224,"f":0.224},{"p":"c","c":"0.008","x":3075,"y":0.226,"f":0.224},{"p":"c","c":"0.008","x":3080,"y":0.220,"f":0.224},{"p":"c","c":"0.008","x":3085,"y":0.223,"f":0.224},{"p":"c","c":"0.008","x":3090,"y":0.218,"f":0.224},{"p":"c","c":"0.008","x":3095,"y":0.222,"f":0.224},{"p":"c","c":"0.008","x":3100,"y":0.224,"f":0.224},

{"p":"c","c":"0.0","x":2800,"y":0.027},{"p":"c","c":"0.0","x":2805,"y":0.028},{"p":"c","c":"0.0","x":2810,"y":0.032},{"p":"c","c":"0.0","x":2815,"y":0.030},{"p":"c","c":"0.0","x":2820,"y":0.026},{"p":"c","c":"0.0","x":2825,"y":0.032},{"p":"c","c":"0.0","x":2830,"y":0.029},{"p":"c","c":"0.0","x":2835,"y":0.028},{"p":"c","c":"0.0","x":2840,"y":0.036},{"p":"c","c":"0.0","x":2845,"y":0.030},{"p":"c","c":"0.0","x":2850,"y":0.025},
{"p":"c","c":"0.0","x":2855,"y":0.036},{"p":"c","c":"0.0","x":2860,"y":0.040},{"p":"c","c":"0.0","x":2865,"y":0.030},{"p":"c","c":"0.0","x":2870,"y":0.022},{"p":"c","c":"0.0","x":2875,"y":0.026},{"p":"c","c":"0.0","x":2880,"y":0.032},{"p":"c","c":"0.0","x":2885,"y":0.035},{"p":"c","c":"0.0","x":2890,"y":0.040},{"p":"c","c":"0.0","x":2895,"y":0.028},{"p":"c","c":"0.0","x":2900,"y":0.026},
{"p":"c","c":"0.0","x":2905,"y":0.027},{"p":"c","c":"0.0","x":2910,"y":0.030},{"p":"c","c":"0.0","x":2915,"y":0.026},{"p":"c","c":"0.0","x":2920,"y":0.025},{"p":"c","c":"0.0","x":2925,"y":0.029},{"p":"c","c":"0.0","x":2930,"y":0.034},{"p":"c","c":"0.0","x":2935,"y":0.030},{"p":"c","c":"0.0","x":2940,"y":0.032},{"p":"c","c":"0.0","x":2945,"y":0.031},{"p":"c","c":"0.0","x":2950,"y":0.024},
{"p":"c","c":"0.0","x":2955,"y":0.028},{"p":"c","c":"0.0","x":2960,"y":0.030},{"p":"c","c":"0.0","x":2965,"y":0.026},{"p":"c","c":"0.0","x":2970,"y":0.033},{"p":"c","c":"0.0","x":2975,"y":0.037},{"p":"c","c":"0.0","x":2980,"y":0.032},{"p":"c","c":"0.0","x":2985,"y":0.035},{"p":"c","c":"0.0","x":2990,"y":0.040},{"p":"c","c":"0.0","x":2995,"y":0.036},{"p":"c","c":"0.0","x":3000,"y":0.042},
{"p":"c","c":"0.0","x":3005,"y":0.048},{"p":"c","c":"0.0","x":3010,"y":0.045},{"p":"c","c":"0.0","x":3015,"y":0.040},{"p":"c","c":"0.0","x":3020,"y":0.036},{"p":"c","c":"0.0","x":3025,"y":0.027},{"p":"c","c":"0.0","x":3030,"y":0.030},{"p":"c","c":"0.0","x":3035,"y":0.032},{"p":"c","c":"0.0","x":3040,"y":0.026},{"p":"c","c":"0.0","x":3045,"y":0.021},{"p":"c","c":"0.0","x":3050,"y":0.016},
{"p":"c","c":"0.0","x":3055,"y":0.020},{"p":"c","c":"0.0","x":3060,"y":0.025},{"p":"c","c":"0.0","x":3065,"y":0.028},{"p":"c","c":"0.0","x":3070,"y":0.030},{"p":"c","c":"0.0","x":3075,"y":0.027},{"p":"c","c":"0.0","x":3080,"y":0.029},{"p":"c","c":"0.0","x":3085,"y":0.025},{"p":"c","c":"0.0","x":3090,"y":0.024},{"p":"c","c":"0.0","x":3095,"y":0.021},{"p":"c","c":"0.0","x":3100,"y":0.020}
],
"lab":[
{"p":"a","x":3098,"y":0.888,"t":"1.0 mg/mL"},{"p":"a","x":3098,"y":0.705,"t":"0.2 mg/mL"},{"p":"a","x":3098,"y":0.49,"t":"0.04 mg/mL"},{"p":"a","x":3098,"y":0.30,"t":"0.008 mg/mL"},{"p":"a","x":3098,"y":0.086,"t":"0.0 mg/mL"},
{"p":"b","x":3096,"y":0.888,"t":"1.0 mg/mL"},{"p":"b","x":3096,"y":0.70,"t":"0.2 mg/mL"},{"p":"b","x":3096,"y":0.49,"t":"0.04 mg/mL"},{"p":"b","x":3096,"y":0.30,"t":"0.008 mg/mL"},{"p":"b","x":3096,"y":0.088,"t":"0.0 mg/mL"},
{"p":"c","x":3093,"y":0.891,"t":"1.0 mg/mL"},{"p":"c","x":3093,"y":0.675,"t":"0.2 mg/mL"},{"p":"c","x":3093,"y":0.49,"t":"0.04 mg/mL"},{"p":"c","x":3093,"y":0.298,"t":"0.008 mg/mL"},{"p":"c","x":3093,"y":0.086,"t":"0.0 mg/mL"}
],
"ttl":[
{"p":"a","x":2823,"y":1.139,"t":"a. Lysozyme"},{"p":"b","x":2816,"y":1.139,"t":"b. Fibrinogen"},{"p":"c","x":2816,"y":1.133,"t":"c. BSA"}
],
"note":[
{"x":2747,"y":1.094,"t":"CH₂(s)"},{"x":2974,"y":1.127,"t":"CH₃(s)"},{"x":3046,"y":1.080,"t":"CH₃(F)"},{"x":3045,"y":0.991,"t":"CH₃(a)"}
],
"arr":[
{"k":1,"x":2780,"y":1.068,"x2":2842.4,"y2":0.9885},{"k":2,"x":2942,"y":1.118,"x2":2895,"y2":1.080},{"k":3,"x":3010,"y":1.074,"x2":2946,"y2":0.988},{"k":4,"x":3011,"y":0.979,"x2":2968,"y2":0.939}
]
},
"spacing":0,
"bounds":"flush",
"hconcat":[
{"width":274,"height":407,
"encoding":{
"x":{"field":"x","type":"quantitative","scale":{"domain":[2800,3100],"nice":false,"zero":false},"axis":{"values":[2800,2900,3000],"format":"d","title":null,"labelPadding":12}},
"y":{"field":"y","type":"quantitative","scale":{"domain":[0,1.2],"nice":false,"zero":false},"axis":{"values":[0,0.2,0.4,0.6,0.8,1,1.2],"format":".1f","title":"SFG Intensity (A.U.)","labelPadding":7,"titlePadding":14,"titleY":212}}},
"layer":[
{"data":{"name":"s"},"transform":[{"filter":"datum.p=='a'"}],"mark":{"type":"circle","size":24,"color":"black","opacity":1}},
{"data":{"name":"s"},"transform":[{"filter":"datum.p=='a' && datum.c!='0.0'"}],"mark":{"type":"line","color":"black","strokeWidth":1.5},
 "encoding":{"y":{"field":"f","type":"quantitative","scale":{"domain":[0,1.2],"nice":false,"zero":false},"axis":{"values":[0,0.2,0.4,0.6,0.8,1,1.2],"format":".1f","title":"SFG Intensity (A.U.)","labelPadding":7,"titlePadding":14,"titleY":212}},"detail":{"field":"c"}}},
{"data":{"name":"s"},"transform":[{"filter":"datum.p=='a' && datum.c=='0.0'"}],"mark":{"type":"line","color":"black","strokeWidth":1.4}},
{"data":{"name":"lab"},"transform":[{"filter":"datum.p=='a'"}],"mark":{"type":"text","align":"right","baseline":"middle","fontSize":18,"color":"black"},"encoding":{"text":{"field":"t"}}},
{"data":{"name":"ttl"},"transform":[{"filter":"datum.p=='a'"}],"mark":{"type":"text","align":"left","baseline":"middle","fontSize":23,"color":"black"},"encoding":{"text":{"field":"t"}}}
]},
{"width":274,"height":407,
"encoding":{
"x":{"field":"x","type":"quantitative","scale":{"domain":[2800,3100],"nice":false,"zero":false},"axis":{"values":[2800,2900,3000],"format":"d","title":"Wavenumber (cm⁻¹)","labelPadding":12,"titlePadding":12}},
"y":{"field":"y","type":"quantitative","scale":{"domain":[0,1.2],"nice":false,"zero":false},"axis":{"values":[0,0.2,0.4,0.6,0.8,1,1.2],"labels":false,"title":null,"domain":false,"tickSize":8,"offset":-4}}},
"layer":[
{"data":{"name":"s"},"transform":[{"filter":"datum.p=='b'"}],"mark":{"type":"circle","size":24,"color":"black","opacity":1}},
{"data":{"name":"s"},"transform":[{"filter":"datum.p=='b' && datum.c!='0.0'"}],"mark":{"type":"line","color":"black","strokeWidth":1.5},
 "encoding":{"y":{"field":"f","type":"quantitative","scale":{"domain":[0,1.2],"nice":false,"zero":false},"axis":{"values":[0,0.2,0.4,0.6,0.8,1,1.2],"labels":false,"title":null,"domain":false,"tickSize":8,"offset":-4}},"detail":{"field":"c"}}},
{"data":{"name":"s"},"transform":[{"filter":"datum.p=='b' && datum.c=='0.0'"}],"mark":{"type":"line","color":"black","strokeWidth":1.4}},
{"data":{"name":"lab"},"transform":[{"filter":"datum.p=='b'"}],"mark":{"type":"text","align":"right","baseline":"middle","fontSize":18,"color":"black"},"encoding":{"text":{"field":"t"}}},
{"data":{"name":"ttl"},"transform":[{"filter":"datum.p=='b'"}],"mark":{"type":"text","align":"left","baseline":"middle","fontSize":23,"color":"black"},"encoding":{"text":{"field":"t"}}}
]},
{"width":274,"height":407,
"encoding":{
"x":{"field":"x","type":"quantitative","scale":{"domain":[2800,3100],"nice":false,"zero":false},"axis":{"values":[2800,2900,3000,3100],"format":"d","title":null,"labelPadding":12}},
"y":{"field":"y","type":"quantitative","scale":{"domain":[0,1.2],"nice":false,"zero":false},"axis":{"values":[0,0.2,0.4,0.6,0.8,1,1.2],"labels":false,"title":null,"domain":false,"tickSize":8,"offset":-4}}},
"layer":[
{"data":{"name":"s"},"transform":[{"filter":"datum.p=='c'"}],"mark":{"type":"circle","size":24,"color":"black","opacity":1}},
{"data":{"name":"s"},"transform":[{"filter":"datum.p=='c' && datum.c!='0.0'"}],"mark":{"type":"line","color":"black","strokeWidth":1.5},
 "encoding":{"y":{"field":"f","type":"quantitative","scale":{"domain":[0,1.2],"nice":false,"zero":false},"axis":{"values":[0,0.2,0.4,0.6,0.8,1,1.2],"labels":false,"title":null,"domain":false,"tickSize":8,"offset":-4}},"detail":{"field":"c"}}},
{"data":{"name":"s"},"transform":[{"filter":"datum.p=='c' && datum.c=='0.0'"}],"mark":{"type":"line","color":"black","strokeWidth":1.4}},
{"data":{"name":"lab"},"transform":[{"filter":"datum.p=='c'"}],"mark":{"type":"text","align":"right","baseline":"middle","fontSize":18,"color":"black"},"encoding":{"text":{"field":"t"}}},
{"data":{"name":"ttl"},"transform":[{"filter":"datum.p=='c'"}],"mark":{"type":"text","align":"left","baseline":"middle","fontSize":23,"color":"black"},"encoding":{"text":{"field":"t"}}},
{"data":{"name":"note"},"mark":{"type":"text","align":"center","baseline":"middle","fontSize":22,"color":"black"},"encoding":{"text":{"field":"t"}}},
{"data":{"name":"arr"},"mark":{"type":"rule","color":"black","strokeWidth":2.4},"encoding":{"x2":{"field":"x2"},"y2":{"field":"y2"}}},
{"data":{"name":"arr"},"transform":[{"filter":"datum.k==1"}],"mark":{"type":"point","shape":"triangle-up","filled":true,"color":"black","opacity":1,"size":200,"angle":115.5},"encoding":{"x":{"field":"x2","type":"quantitative","scale":{"domain":[2800,3100],"nice":false,"zero":false}},"y":{"field":"y2","type":"quantitative","scale":{"domain":[0,1.2],"nice":false,"zero":false}}}},
{"data":{"name":"arr"},"transform":[{"filter":"datum.k==2"}],"mark":{"type":"point","shape":"triangle-up","filled":true,"color":"black","opacity":1,"size":200,"angle":253.3},"encoding":{"x":{"field":"x2","type":"quantitative","scale":{"domain":[2800,3100],"nice":false,"zero":false}},"y":{"field":"y2","type":"quantitative","scale":{"domain":[0,1.2],"nice":false,"zero":false}}}},
{"data":{"name":"arr"},"transform":[{"filter":"datum.k==3"}],"mark":{"type":"point","shape":"triangle-up","filled":true,"color":"black","opacity":1,"size":200,"angle":243.8},"encoding":{"x":{"field":"x2","type":"quantitative","scale":{"domain":[2800,3100],"nice":false,"zero":false}},"y":{"field":"y2","type":"quantitative","scale":{"domain":[0,1.2],"nice":false,"zero":false}}}},
{"data":{"name":"arr"},"transform":[{"filter":"datum.k==4"}],"mark":{"type":"point","shape":"triangle-up","filled":true,"color":"black","opacity":1,"size":200,"angle":250.8},"encoding":{"x":{"field":"x2","type":"quantitative","scale":{"domain":[2800,3100],"nice":false,"zero":false}},"y":{"field":"y2","type":"quantitative","scale":{"domain":[0,1.2],"nice":false,"zero":false}}}}
]}
]
}
